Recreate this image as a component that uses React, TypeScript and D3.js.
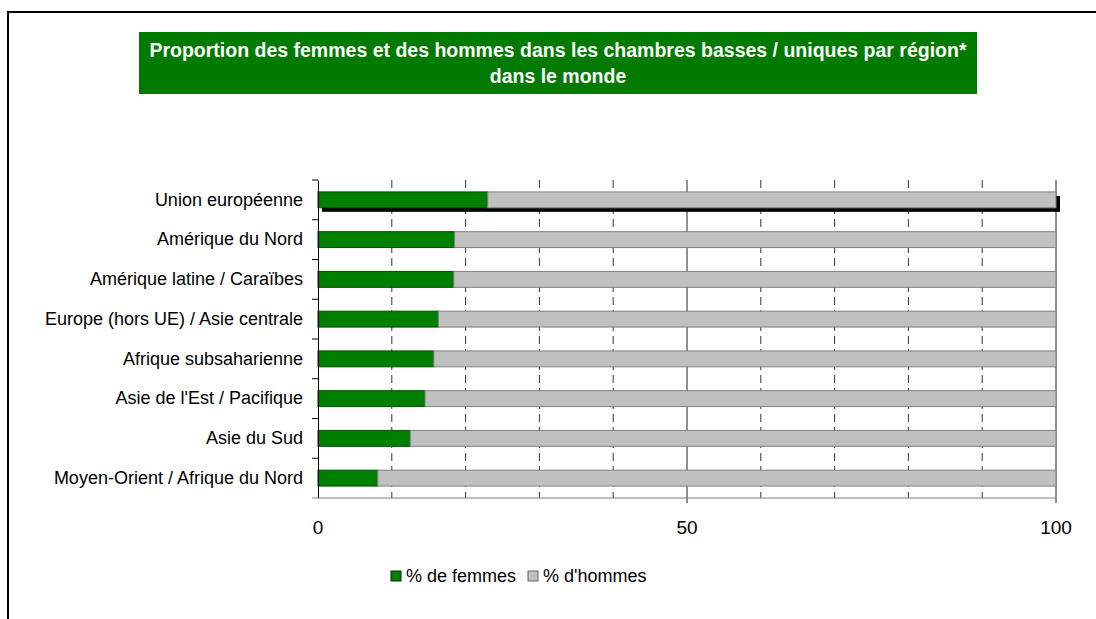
import { useEffect, useRef } from "react";
import * as d3 from "d3";

const regions = [
  "Union européenne",
  "Amérique du Nord",
  "Amérique latine / Caraïbes",
  "Europe (hors UE) / Asie centrale",
  "Afrique subsaharienne",
  "Asie de l'Est / Pacifique",
  "Asie du Sud",
  "Moyen-Orient / Afrique du Nord",
];
const femmes = [23.0, 18.5, 18.4, 16.3, 15.7, 14.5, 12.5, 8.1];
const hommes = [77.0, 81.5, 81.6, 83.7, 84.3, 85.5, 87.5, 91.9];
const xTicks = [0, 50, 100];
const gridTicks = [10, 20, 30, 40, 60, 70, 80, 90];
const titleLines = [
  "Proportion des femmes et des hommes dans les chambres basses / uniques par région*",
  "dans le monde",
];
const legendItems = ["% de femmes", "% d'hommes"];

export default function App() {
  const ref = useRef<SVGSVGElement>(null);

  useEffect(() => {
    const width = 1096;
    const height = 619;
    const svg = d3.select(ref.current);
    svg.selectAll("*").remove();
    svg.attr("width", width).attr("height", height).attr("viewBox", `0 0 ${width} ${height}`);

    const font = "'Liberation Sans', Arial, sans-serif";
    const green = "#008000";
    const gray = "#c0c0c0";

    // outer frame
    svg
      .append("rect")
      .attr("x", 8)
      .attr("y", 12)
      .attr("width", width + 20)
      .attr("height", height + 20)
      .attr("fill", "#fff")
      .attr("stroke", "#000")
      .attr("stroke-width", 2);

    // title box
    svg.append("rect").attr("x", 139).attr("y", 32).attr("width", 838).attr("height", 62).attr("fill", "#007a00");
    svg
      .append("g")
      .selectAll("text")
      .data(titleLines)
      .join("text")
      .attr("x", 558)
      .attr("y", (d, i) => 57 + i * 26)
      .attr("text-anchor", "middle")
      .attr("fill", "#fff")
      .style("font-family", font)
      .style("font-size", "19.5px")
      .style("font-weight", "bold")
      .text((d) => d);

    const x = d3.scaleLinear().domain([0, 100]).range([318, 1056]);
    const y = d3.scaleBand().domain(regions).range([180, 498]).paddingInner(0.6).paddingOuter(0.3);
    const yb = d3.scaleBand().domain(regions).range([180, 498]);

    // gridlines
    svg
      .append("g")
      .selectAll("line")
      .data(gridTicks)
      .join("line")
      .attr("x1", (d) => x(d))
      .attr("x2", (d) => x(d))
      .attr("y1", 180)
      .attr("y2", 498)
      .attr("stroke", "#333")
      .attr("stroke-dasharray", "8,5");
    svg
      .append("g")
      .selectAll("line")
      .data([50, 100])
      .join("line")
      .attr("x1", (d) => x(d))
      .attr("x2", (d) => x(d))
      .attr("y1", 180)
      .attr("y2", 503)
      .attr("stroke", "#222");

    // drop shadow on the first bar
    svg
      .append("rect")
      .attr("x", x(0) + 4)
      .attr("y", (y(regions[0]) as number) + 4)
      .attr("width", x(100) - x(0))
      .attr("height", y.bandwidth())
      .attr("fill", "#000");

    const rows = svg
      .append("g")
      .selectAll("g")
      .data(regions)
      .join("g")
      .attr("transform", (d) => `translate(0,${y(d)})`);

    rows
      .append("rect")
      .attr("x", x(0))
      .attr("width", (d, i) => x(femmes[i]) - x(0))
      .attr("height", y.bandwidth())
      .attr("fill", green)
      .attr("stroke", "#004d00")
      .attr("stroke-width", 1);
    rows
      .append("rect")
      .attr("x", (d, i) => x(femmes[i]))
      .attr("width", (d, i) => x(femmes[i] + hommes[i]) - x(femmes[i]))
      .attr("height", y.bandwidth())
      .attr("fill", gray)
      .attr("stroke", "#808080")
      .attr("stroke-width", 1);

    // y axis
    const yAxis = svg
      .append("g")
      .attr("transform", "translate(318,0)")
      .call(d3.axisLeft(yb).tickSize(0).tickPadding(15));
    yAxis.select(".domain").attr("stroke", "#000");
    yAxis
      .selectAll("text")
      .attr("fill", "#000")
      .style("font-family", font)
      .style("font-size", "18px");
    svg
      .append("g")
      .selectAll("line")
      .data(regions)
      .join("line")
      .attr("x1", 312)
      .attr("x2", 318)
      .attr("y1", (d) => yb(d) as number)
      .attr("y2", (d) => yb(d) as number)
      .attr("stroke", "#000");

    // x axis
    svg
      .append("line")
      .attr("x1", 312)
      .attr("x2", x(100))
      .attr("y1", 498)
      .attr("y2", 498)
      .attr("stroke", "#808080");
    svg
      .append("g")
      .selectAll("text")
      .data(xTicks)
      .join("text")
      .attr("x", (d) => x(d))
      .attr("y", 534)
      .attr("text-anchor", "middle")
      .style("font-family", font)
      .style("font-size", "19px")
      .text((d) => d);

    // legend
    const legendX = [391, 528];
    const lg = svg
      .append("g")
      .selectAll("g")
      .data(legendItems)
      .join("g")
      .attr("transform", (d, i) => `translate(${legendX[i]},571)`);
    lg.append("rect")
      .attr("width", 10)
      .attr("height", 10)
      .attr("fill", (d, i) => (i === 0 ? green : gray))
      .attr("stroke", (d, i) => (i === 0 ? "#003300" : "#666"));
    lg.append("text")
      .attr("x", 15)
      .attr("y", 11)
      .style("font-family", font)
      .style("font-size", "18px")
      .text((d) => d);
  }, []);

  return (
    <svg
      ref={ref}
      style={{ position: "absolute", left: 0, top: 0, display: "block" }}
      role="img"
      aria-label="Proportion des femmes et des hommes par région"
    />
  );
}
